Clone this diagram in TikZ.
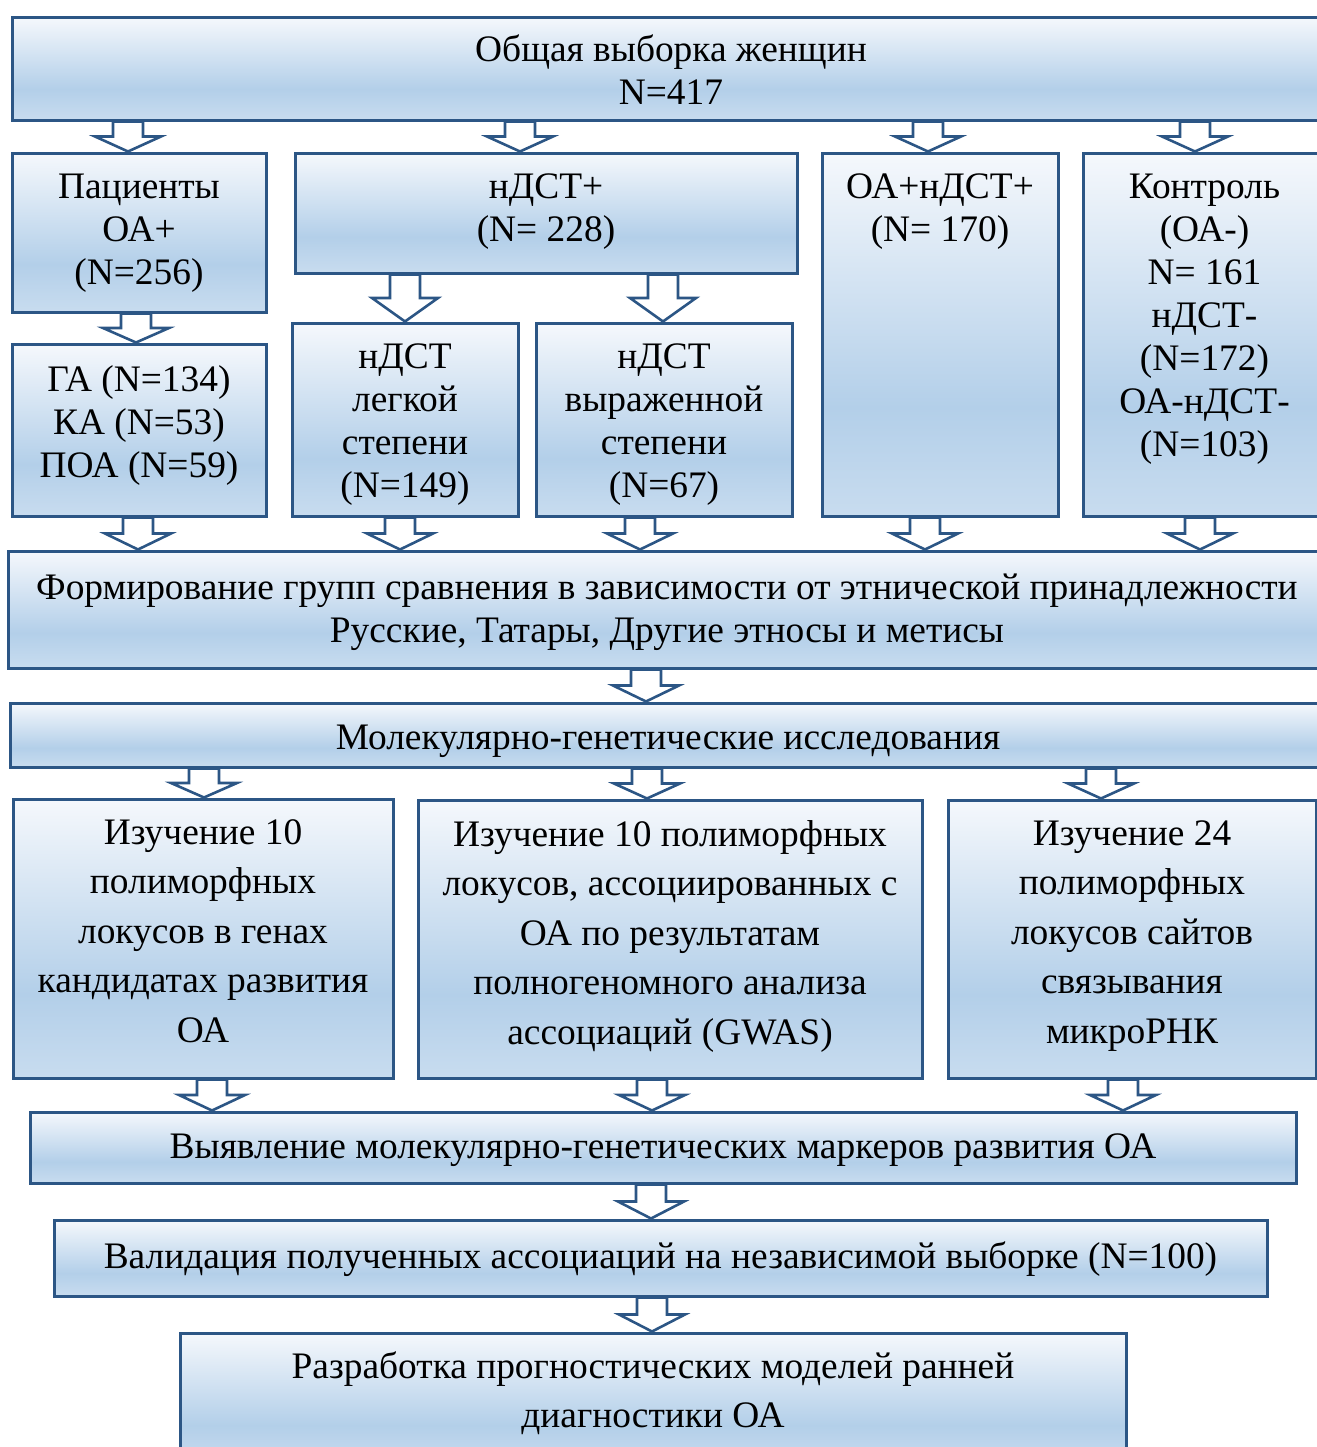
\documentclass[tikz,border=0pt]{standalone}
\usepackage{fontspec}
\setmainfont{Liberation Serif}
\usetikzlibrary{calc,fit,positioning}

\definecolor{boxline}{RGB}{44,86,133}
\definecolor{boxtop}{RGB}{245,248,252}
\definecolor{boxmid}{RGB}{179,207,233}
\definecolor{boxbot}{RGB}{200,220,239}
\pgfdeclareverticalshading{boxshade}{100bp}{color(0bp)=(boxbot); color(25bp)=(boxbot);
  color(40bp)=(boxmid); color(75bp)=(boxtop); color(100bp)=(boxtop)}

% hollow block arrow: x, from node, to node
\newcommand{\blockdown}[3]{%
  \draw[barrow] let \p1=(#2.south -| #1,0), \p2=(#3.north -| #1,0),
    \p3=($(\p1)!.5!(\p2)$) in
    (\x1-7.5pt,\y1) -- (\x1+7.5pt,\y1) -- (\x1+7.5pt,\y3) -- (\x1+16.5pt,\y3)
    -- (\x1,\y2) -- (\x1-16.5pt,\y3) -- (\x1-7.5pt,\y3) -- cycle;}

\begin{document}
\begin{tikzpicture}[x=0.5pt,y=-0.5pt,
  box/.style={draw=boxline,line width=1.5pt,shading=boxshade,inner sep=0pt},
  lbl/.style={align=center,inner sep=0pt,font=\fontsize{18.7}{21.5}\selectfont,
    execute at begin node=\strut},
  lbltall/.style={lbl,font=\fontsize{18.7}{24.75}\selectfont},
  barrow/.style={draw=boxline,line width=1.3pt,fill=white,line join=miter}]
 \useasboundingbox (0,0) rectangle (1317,1447);

 % boxes
 \node[box,fit={(12,17) (1330,120)}]    (total)   {};
 \node[box,fit={(12,153) (266,312)}]    (pat)     {};
 \node[box,fit={(295,153) (797,273)}]   (ndst)    {};
 \node[box,fit={(822,153) (1058,516)}]  (oandst)  {};
 \node[box,fit={(1083,153) (1326,516)}] (ctrl)    {};
 \node[box,fit={(12,344) (266,516)}]    (types)   {};
 \node[box,fit={(292,323) (518,516)}]   (mild)    {};
 \node[box,fit={(536,323) (792,516)}]   (severe)  {};
 \node[box,fit={(8,551) (1326,668)}]    (groups)  {};
 \node[box,fit={(10,703) (1326,767)}]   (molgen)  {};
 \node[box,fit={(13,799) (393,1078)}]   (cand)    {};
 \node[box,fit={(418,800) (922,1078)}]  (gwas)    {};
 \node[box,fit={(948,800) (1316,1078)}] (mirna)   {};
 \node[box,fit={(30,1112) (1296,1183)}] (markers) {};
 \node[box,fit={(54,1220) (1267,1296)}] (valid)   {};
 \node[box,fit={(180,1333) (1126,1465)}] (models) {};

 % texts
 \node[lbl,below=9.6pt of total.north]   (total-t)  {Общая выборка женщин\\N=417};
 \node[lbl,below=11.1pt of pat.north]    (pat-t)    {Пациенты\\ОА+\\(N=256)};
 \node[lbl,below=11.1pt of ndst.north]   (ndst-t)   {нДСТ+\\(N= 228)};
 \node[lbl,below=11.1pt of oandst.north] (oandst-t) {ОА+нДСТ+\\(N= 170)};
 \node[lbl,below=11.1pt of ctrl.north]   (ctrl-t)
   {Контроль\\(ОА-)\\N= 161\\нДСТ-\\(N=172)\\ОА-нДСТ-\\(N=103)};
 \node[lbl,below=11.1pt of types.north]  (types-t)  {ГА (N=134)\\КА (N=53)\\ПОА (N=59)};
 \node[lbl,below=11.1pt of mild.north]   (mild-t)   {нДСТ\\легкой\\степени\\(N=149)};
 \node[lbl,below=11.1pt of severe.north] (severe-t) {нДСТ\\выраженной\\степени\\(N=67)};
 \node[lbl,below=12.1pt of groups.north] (groups-t)
   {Формирование групп сравнения в зависимости от этнической принадлежности\\
    Русские, Татары, Другие этносы и метисы};
 \node[lbl,below=8.6pt of molgen.north] (molgen-t) {Молекулярно-генетические исследования};
 \node[lbltall,below=10.7pt of cand.north] (cand-t)
   {Изучение 10\\полиморфных\\локусов в генах\\кандидатах развития\\ОА};
 \node[lbltall,below=10.7pt of gwas.north] (gwas-t)
   {Изучение 10 полиморфных\\локусов, ассоциированных с\\ОА по результатам\\
    полногеномного анализа\\ассоциаций (GWAS)};
 \node[lbltall,below=10.7pt of mirna.north] (mirna-t)
   {Изучение 24\\полиморфных\\локусов сайтов\\связывания\\микроРНК};
 \node[lbl,below=8.6pt of markers.north] (markers-t)
   {Выявление молекулярно-генетических маркеров развития ОА};
 \node[lbl,below=9.6pt of valid.north] (valid-t)
   {Валидация полученных ассоциаций на независимой выборке (N=100)};
 \node[lbltall,below=9.7pt of models.north] (models-t)
   {Разработка прогностических моделей ранней\\диагностики ОА};

 % arrows
 \blockdown{128}{total}{pat}
 \blockdown{520}{total}{ndst}
 \blockdown{928}{total}{oandst}
 \blockdown{1195}{total}{ctrl}
 \blockdown{136}{pat}{types}
 \blockdown{405}{ndst}{mild}
 \blockdown{663}{ndst}{severe}
 \blockdown{138}{types}{groups}
 \blockdown{400}{mild}{groups}
 \blockdown{640}{severe}{groups}
 \blockdown{925}{oandst}{groups}
 \blockdown{1200}{ctrl}{groups}
 \blockdown{646}{groups}{molgen}
 \blockdown{204}{molgen}{cand}
 \blockdown{647}{molgen}{gwas}
 \blockdown{1101}{molgen}{mirna}
 \blockdown{212}{cand}{markers}
 \blockdown{652}{gwas}{markers}
 \blockdown{1123}{mirna}{markers}
 \blockdown{651}{markers}{valid}
 \blockdown{652}{valid}{models}
\end{tikzpicture}
\end{document}
